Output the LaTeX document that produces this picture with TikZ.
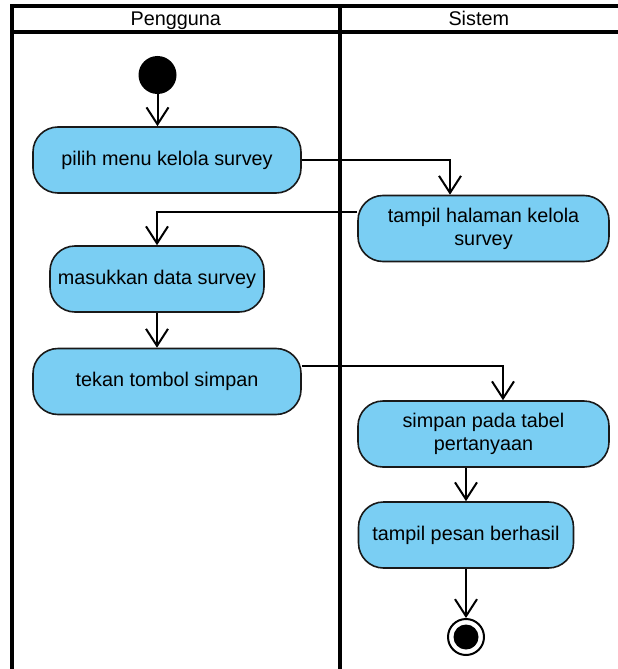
\documentclass[tikz,border=0pt]{standalone}
\usepackage{fontspec}
\setmainfont{Liberation Sans}
\usetikzlibrary{arrows.meta,positioning}

\definecolor{aksibiru}{RGB}{122,206,243}

\begin{document}
\begin{tikzpicture}[x=1pt,y=-1pt,
  font=\fontsize{19.8}{23}\selectfont,
  aksi/.style={draw=black!90,line width=1.6pt,fill=aksibiru,rounded corners=25pt,
    minimum height=66pt,align=center,inner sep=2pt},
  alur/.style={line width=2pt,-{Straight Barb[length=17pt,width=22pt,line width=2pt]}},
  lajur/.style={line width=4pt}]

\useasboundingbox (0,0) rectangle (618,669);

% ============================
% SWIMLANES
% ============================

\draw[lajur] (12,669) -- (12,6.5) -- (618,6.5);
\draw[lajur] (12,32.5) -- (618,32.5);
\draw[lajur] (339.5,6.5) -- (339.5,669);
\node[anchor=base] (pengguna) at (175.75,26) {Pengguna};
\node[anchor=base] (sistem) at (478.75,26) {Sistem};

% ============================
% NODES
% ============================

% start / end
\node[circle,fill=black,minimum size=38pt,inner sep=0pt] (mulai) at (157.5,75) {};
\node[circle,draw,line width=2pt,minimum size=36pt,inner sep=0pt] (akhir) at (466,637) {};
\fill (akhir) circle (12.5pt);

% activities
\node[aksi,minimum width=268pt] (pilih) at (167,160) {pilih menu kelola survey};
\node[aksi,minimum width=251pt] (halaman) at (483.5,228.5) {tampil halaman kelola\\survey};
\node[aksi,minimum width=214pt] (masukkan) at (157,279) {masukkan data survey};
\node[aksi,minimum width=268pt] (tekan) at (167,381.5) {tekan tombol simpan};
\node[aksi,minimum width=251pt] (simpan) at (483.5,434) {simpan pada tabel\\pertanyaan};
\node[aksi,minimum width=215pt] (pesan) at (466,535) {tampil pesan berhasil};

% ============================
% FLOWS
% ============================

\draw[alur] (mulai) -- (mulai |- pilih.north);
\draw[alur] (pilih.east) -| ([xshift=-33.5pt]halaman.north);
\draw[alur] ([yshift=16.5pt]halaman.west) -| (masukkan.north);
\draw[alur] (masukkan.south) -- (masukkan.south |- tekan.north);
\draw[alur] ([yshift=15.5pt]tekan.east) -| ([xshift=19.5pt]simpan.north);
\draw[alur] (simpan.south -| pesan.north) -- (pesan.north);
\draw[alur] (pesan) -- (akhir);

\end{tikzpicture}
\end{document}
